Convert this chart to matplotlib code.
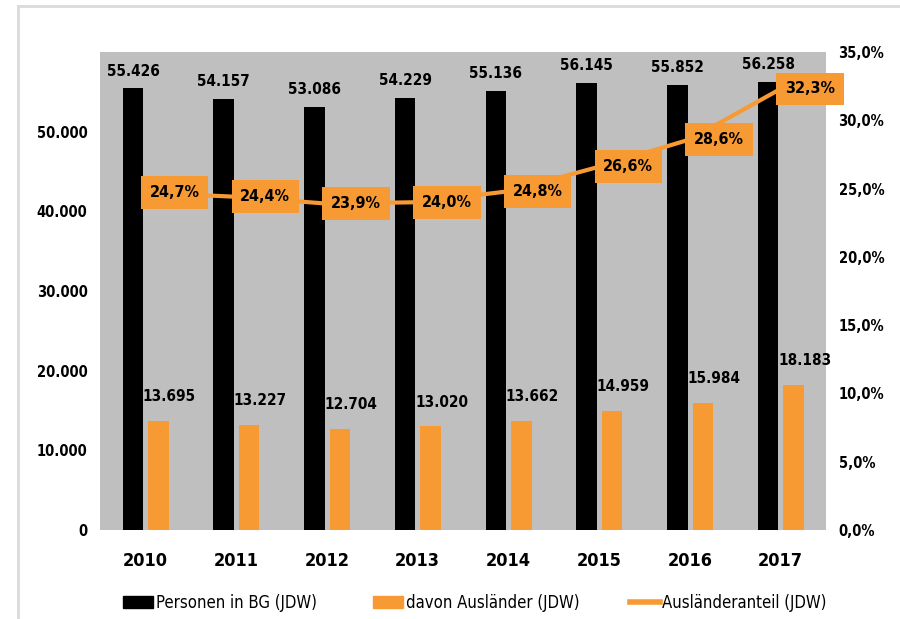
import matplotlib
matplotlib.use("Agg")
import matplotlib.pyplot as plt
from matplotlib import font_manager
from matplotlib.lines import Line2D
from matplotlib.patches import Patch
import numpy as np

years = ["2010", "2011", "2012", "2013", "2014", "2015", "2016", "2017"]
persons = [55426, 54157, 53086, 54229, 55136, 56145, 55852, 56258]
foreigners = [13695, 13227, 12704, 13020, 13662, 14959, 15984, 18183]
share = [24.7, 24.4, 23.9, 24.0, 24.8, 26.6, 28.6, 32.3]

left_ticks = [0, 10000, 20000, 30000, 40000, 50000]
right_ticks = [0, 5, 10, 15, 20, 25, 30, 35]

ORANGE = "#F79A34"
GREY = "#BFBFBF"

names = {f.name for f in font_manager.fontManager.ttflist}
if "Liberation Sans Narrow" in names:
    plt.rcParams["font.family"] = ["Liberation Sans Narrow", "DejaVu Sans"]
else:
    plt.rcParams["font.family"] = ["DejaVu Sans"]
    plt.rcParams["font.stretch"] = "condensed"


def de_int(v):
    return f"{v:,}".replace(",", ".")


def de_pct(v):
    return f"{v:.1f}%".replace(".", ",")


fig = plt.figure(figsize=(9, 6.19), dpi=100)
ax = fig.add_axes([100 / 900, 89 / 619, 726 / 900, 478 / 619])
ax.set_facecolor(GREY)
ax2 = ax.twinx()

x = np.arange(len(years))
w = 0.225
ax.bar(x - 0.137, persons, w, color="black", zorder=2)
ax.bar(x + 0.143, foreigners, w, color=ORANGE, zorder=2)

for xi, v in zip(x, persons):
    ax.annotate(de_int(v), (xi - 0.137, v), xytext=(0, 7), textcoords="offset points",
                ha="center", va="bottom", fontsize=11, fontweight="bold")
for xi, v in zip(x, foreigners):
    ax.annotate(de_int(v), (xi + 0.143, v), xytext=(8, 12), textcoords="offset points",
                ha="center", va="bottom", fontsize=11, fontweight="bold")

ax2.plot(x, share, color=ORANGE, lw=3, zorder=5)
for xi, v in zip(x, share):
    ax2.annotate(de_pct(v), (xi, v), xytext=(21, 0), textcoords="offset points",
                 ha="center", va="center", fontsize=11.5, fontweight="bold",
                 bbox=dict(boxstyle="square,pad=0.55", fc=ORANGE, ec="none"), zorder=6)

ax.set_xlim(-0.5, len(years) - 0.5)
ax.set_ylim(0, 60000)
ax2.set_ylim(0, 35)
ax.set_xticks(x)
ax.set_xticklabels(years, fontsize=13, fontweight="bold")
ax.set_yticks(left_ticks)
ax.set_yticklabels([de_int(t) for t in left_ticks], fontsize=10.5, fontweight="bold")
ax2.set_yticks(right_ticks)
ax2.set_yticklabels([de_pct(t) for t in right_ticks], fontsize=10.5, fontweight="bold")
ax.tick_params(axis="x", length=0, pad=16)
ax.tick_params(axis="y", length=0, pad=9)
ax2.tick_params(axis="y", length=0, pad=9)
for a in (ax, ax2):
    for s in a.spines.values():
        s.set_visible(False)

handles = [
    Patch(color="black", label="Personen in BG (JDW)"),
    Patch(color=ORANGE, label="davon Ausländer (JDW)"),
    Line2D([], [], color=ORANGE, lw=4, label="Ausländeranteil (JDW)"),
]
starts = [123, 373, 630]
for h, sx in zip(handles, starts):
    fig.legend(handles=[h], loc="center left", bbox_to_anchor=(sx / 900, 16 / 619),
               frameon=False, fontsize=12, handlelength=1.8, handletextpad=0.15,
               borderaxespad=0, borderpad=0)

fig.add_artist(Line2D([18 / 900, 18 / 900], [0, 1 - 6 / 619], color="#DADADA", lw=2,
                      transform=fig.transFigure))
fig.add_artist(Line2D([18 / 900, 1], [1 - 6 / 619, 1 - 6 / 619], color="#DADADA", lw=2,
                      transform=fig.transFigure))

fig.savefig("out.png", dpi=100)
